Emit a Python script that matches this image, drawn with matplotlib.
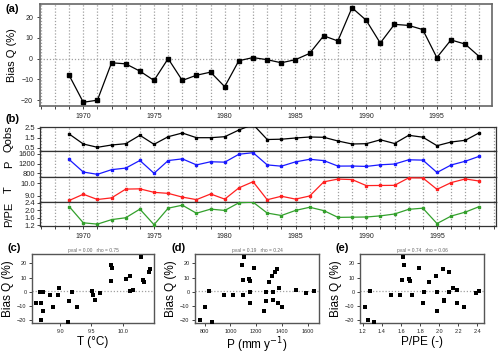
import numpy as np
import matplotlib
matplotlib.use('Agg')
import matplotlib.pyplot as plt

plt.rcParams['font.family'] = ['Liberation Sans', 'DejaVu Sans']

# data
years = np.arange(1969, 1999)
bias = [-8, -21, -20, -2, -2.5, -6, -10.5, 0, -10.5, -8, -6.5, -13.5, -1, 0.5, -0.5,
        -2, -0.5, 2.5, 11, 8.5, 24.5, 18.5, 7.5, 16.5, 16, 14, 0.5, 9, 7, 1]
qobs = [1.9, 0.9, 0.57, 0.8, 0.93, 1.77, 0.87, 1.63, 2.0, 1.53, 1.53, 1.63, 2.3, 2.85, 1.35,
        1.38, 1.5, 1.6, 1.57, 1.2, 0.9, 0.93, 1.32, 0.95, 1.77, 1.58, 0.73, 1.1, 1.27, 2.03]
precip = [1372, 856, 762, 954, 1018, 1331, 805, 1328, 1397, 1149, 1279, 1262, 1587, 1651, 1149,
          1097, 1274, 1379, 1326, 1100, 1103, 1087, 1154, 1185, 1359, 1346, 838, 1146, 1300, 1505]
temp = [8.62, 9.12, 8.70, 8.83, 9.53, 9.55, 9.27, 9.19, 8.89, 8.69, 9.14, 8.73, 9.63, 10.12, 8.68,
        8.96, 8.73, 8.98, 10.11, 10.33, 10.29, 9.81, 9.82, 9.83, 10.43, 10.42, 9.51, 10.05, 10.34, 10.17]
ppe = [2.19, 1.32, 1.25, 1.49, 1.59, 2.05, 1.22, 2.10, 2.26, 1.83, 2.05, 1.98, 2.39, 2.42, 1.84,
       1.71, 1.98, 2.15, 1.97, 1.61, 1.62, 1.63, 1.69, 1.79, 2.04, 2.10, 1.28, 1.68, 1.89, 2.19]

W, H = 500, 354
fig = plt.figure(figsize=(5, 3.54), dpi=100)

def box(l, t, r, b):
    return [l / W, 1 - b / H, (r - l) / W, (b - t) / H]

tick_col = '#222222'
grid_col = '#a0a0a0'
dots = (0, (1, 1.5))

# ---- (a) bias time series
ax = fig.add_axes(box(40, 4, 492, 106))
ax.plot(years, bias, color='black', lw=0.9, marker='s', ms=2.2, zorder=3)
ax.axhline(0, color=grid_col, ls=dots, lw=0.9, zorder=1)
ax.set_xlim(1966.94, 1998.9)
ax.set_ylim(-22.8, 26.3)
ax.set_xticks(np.arange(1967, 1999))
ax.set_xticklabels([str(y) if y % 5 == 0 else '' for y in range(1967, 1999)])
ax.set_yticks([-20, -10, 0, 10, 20])
ax.xaxis.grid(True, color=grid_col, linestyle=dots, linewidth=0.9)
ax.tick_params(labelsize=5, length=2, width=0.6, colors=tick_col, pad=3)
ax.set_ylabel('Bias Q (%)', fontsize=8, labelpad=3)
for s in ax.spines.values():
    s.set_color('#666666')
    s.set_linewidth(1.2)
fig.text(5 / W, 1 - 9 / H, '(a)', fontsize=8, fontweight='bold', va='center')

# ---- (b) stacked drivers
rows = [(qobs, 'Qobs', 'black', (0.2, 2.6), [0.5, 1.5, 2.5], 127, 151),
        (precip, 'P', '#1a1aff', (665, 1720), [800, 1200, 1600], 151, 176.7),
        (temp, 'T', '#ff2020', (8.5, 10.52), [9.0, 10.0], 176.7, 202),
        (ppe, 'P/PE', '#33a02c', (1.15, 2.43), [1.2, 1.6, 2.0, 2.4], 202, 226)]
for i, (vals, name, col, lim, ticks, top, bot) in enumerate(rows):
    bx = fig.add_axes(box(40, top, 496, bot))
    bx.plot(years, vals, color=col, lw=0.9, marker='s', ms=2.0, zorder=3)
    bx.set_xlim(1966.94, 1999.17)
    bx.set_ylim(*lim)
    bx.set_yticks(ticks)
    if name == 'T':
        bx.set_yticklabels(['9.0', '10.0'])
    bx.set_xticks(np.arange(1967, 2000))
    bx.xaxis.grid(True, color=grid_col, linestyle=dots, linewidth=0.9)
    bx.tick_params(axis='y', labelsize=5.5, length=2, width=0.6, pad=1.5, colors=tick_col)
    if i < 3:
        bx.tick_params(axis='x', length=0, labelbottom=False)
    else:
        bx.set_xticklabels([str(y) if y % 5 == 0 else '' for y in range(1967, 2000)])
        bx.tick_params(axis='x', labelsize=5, length=2, width=0.6, pad=3, colors=tick_col)
    for s in bx.spines.values():
        s.set_color('#333333')
        s.set_linewidth(0.9)
    fig.text(9 / W, 1 - (top + bot) / 2 / H, name, fontsize=8, rotation=90,
             ha='center', va='center')
fig.text(5 / W, 1 - 119 / H, '(b)', fontsize=8, fontweight='bold', va='center')

# ---- (c)-(e) scatters against bias
scat = [(temp, 'T (°C)', (8.55, 10.50), [9.0, 9.5, 10.0], ['9.0', '9.5', '10.0'],
         'pval = 0.00   rho = 0.75', '(c)', 32, 154, 8),
        (precip, 'P (mm y$^{-1}$)', (726, 1687), [800, 1000, 1200, 1400, 1600], None,
         'pval = 0.19   rho = 0.24', '(d)', 195, 319, 172),
        (ppe, 'P/PE (-)', (1.17, 2.47), [1.2, 1.4, 1.6, 1.8, 2.0, 2.2, 2.4], None,
         'pval = 0.74   rho = 0.06', '(e)', 360, 484, 335)]
for vals, xlab, xlim, xt, xtl, stat, tag, l, r, tx in scat:
    sx = fig.add_axes(box(l, 254, r, 323))
    sx.scatter(vals, bias, marker='s', s=6, color='black', linewidths=0, zorder=3)
    sx.axhline(np.mean(bias), color=grid_col, ls=dots, lw=0.9, zorder=1)
    sx.set_xlim(*xlim)
    sx.set_ylim(-21.9, 26.5)
    sx.set_xticks(xt)
    if xtl is not None:
        sx.set_xticklabels(xtl)
    sx.set_yticks([-20, -10, 0, 10, 20])
    sx.tick_params(labelsize=4, length=2, width=0.6, pad=2, colors=tick_col)
    sx.set_ylabel('Bias Q (%)', fontsize=8.5, labelpad=2)
    sx.set_xlabel(xlab, fontsize=8.5, labelpad=1.5)
    for s in sx.spines.values():
        s.set_color('#555555')
        s.set_linewidth(1.0)
    sx.text(0.5, 1.02, stat, transform=sx.transAxes, fontsize=3.5, color='#666666',
            ha='center', va='bottom')
    fig.text(tx / W, 1 - 248 / H, tag, fontsize=8, fontweight='bold', va='center')

fig.savefig('out.png', dpi=100)
